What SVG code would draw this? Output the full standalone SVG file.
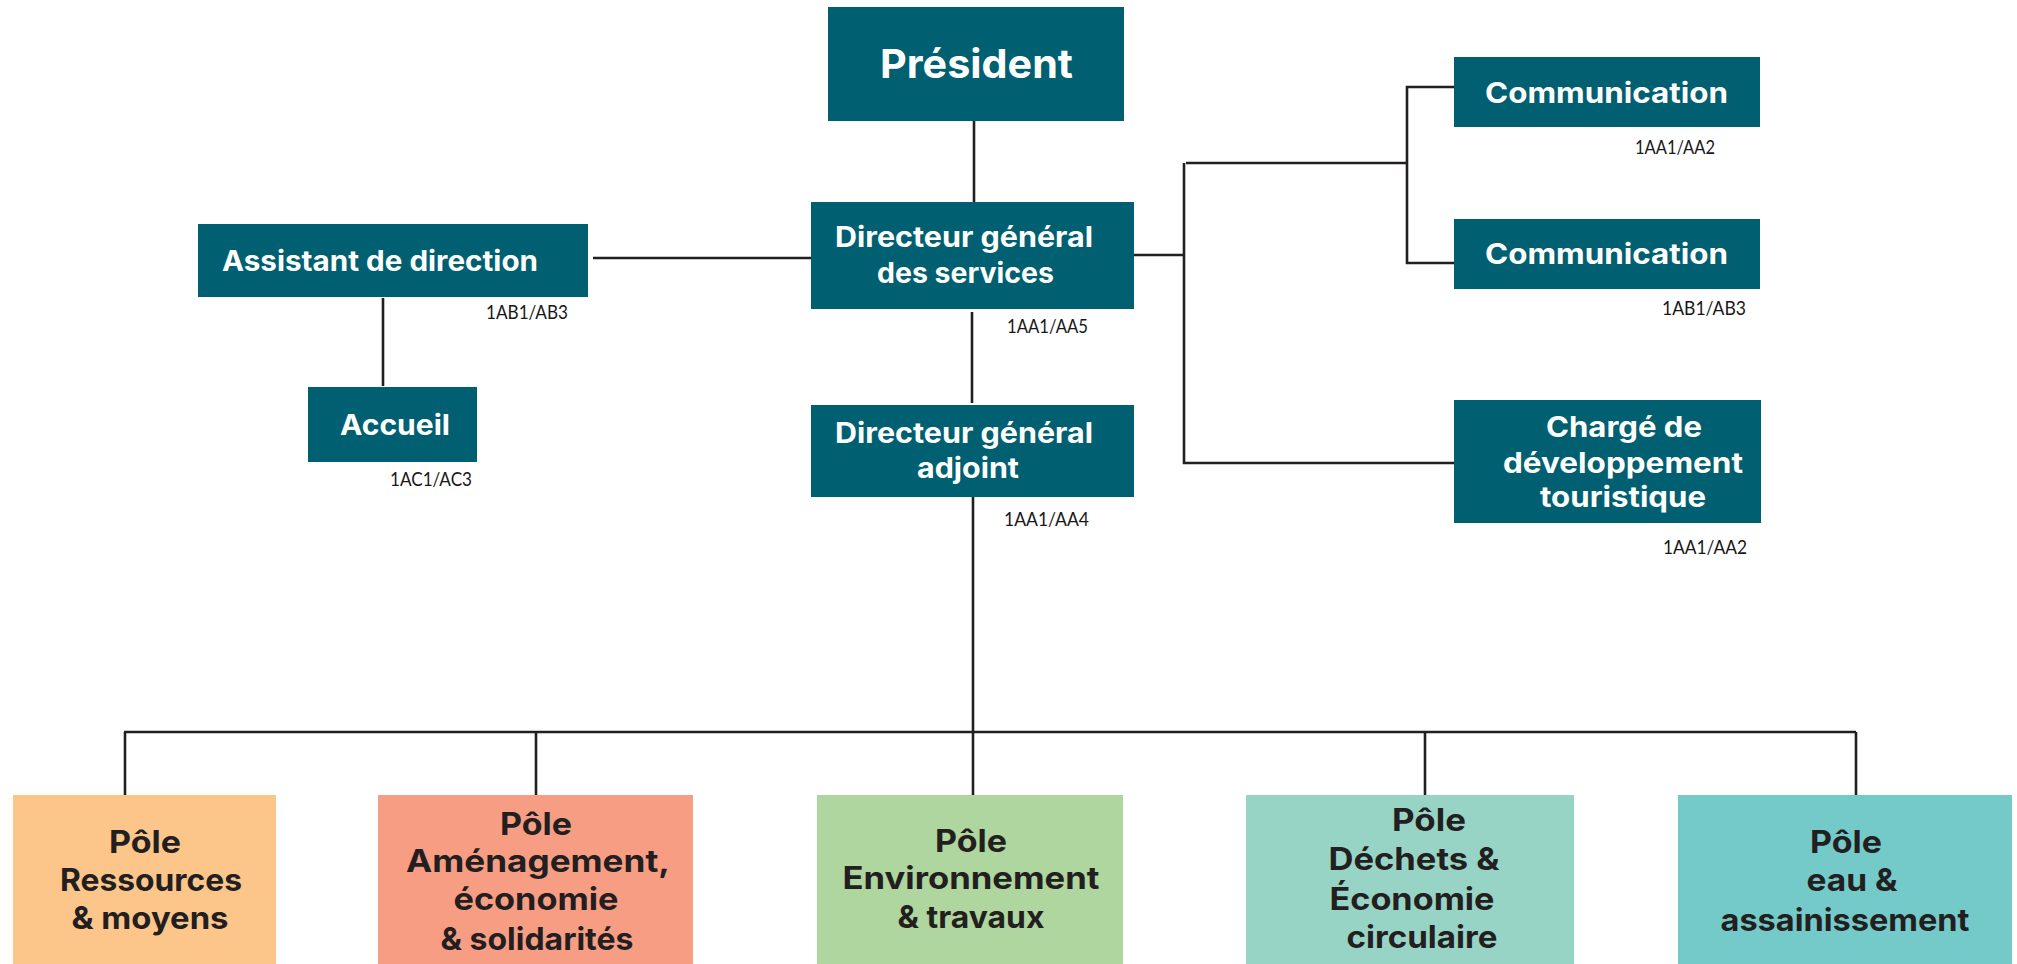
<svg xmlns="http://www.w3.org/2000/svg" width="2017" height="964" viewBox="0 0 2017 964">
<style>
.box{fill:#005F71}
.t{font-family:Inter,"Noto Sans","Liberation Sans",sans-serif;font-weight:700;fill:#FFFFFF;font-size:28px}
.big{font-size:40px}
.p{font-family:Inter,"Noto Sans","Liberation Sans",sans-serif;font-weight:700;fill:#231F20;font-size:31px;text-anchor:middle}
.lab{font-family:Lato,"Open Sans","Liberation Sans",sans-serif;font-weight:400;fill:#1A1718;font-size:19px}
.c{stroke:#231F20;stroke-width:2.6;fill:none}
</style>
<rect width="2017" height="964" fill="#FFFFFF"/>
<g id="connectors">
<line class="c" x1="974" y1="121" x2="974" y2="202"/>
<line class="c" x1="593" y1="258" x2="811" y2="258"/>
<line class="c" x1="383" y1="298" x2="383" y2="386"/>
<line class="c" x1="972" y1="312" x2="972" y2="403"/>
<line class="c" x1="1134" y1="255" x2="1185" y2="255"/>
<line class="c" x1="1184" y1="163" x2="1184" y2="464"/>
<line class="c" x1="1186" y1="163" x2="1408" y2="163"/>
<polyline class="c" points="1462,87 1407,87 1407,263 1462,263"/>
<line class="c" x1="1183" y1="463" x2="1454" y2="463"/>
<line class="c" x1="973" y1="497" x2="973" y2="795"/>
<line class="c" x1="124" y1="732" x2="1856" y2="732" stroke-width="3"/>
<line class="c" x1="125" y1="732" x2="125" y2="795"/>
<line class="c" x1="536" y1="732" x2="536" y2="795"/>
<line class="c" x1="1425" y1="732" x2="1425" y2="795"/>
<line class="c" x1="1856" y1="732" x2="1856" y2="795"/>
</g>
<g id="president">
<rect class="box" x="828" y="7" width="296" height="114"/>
<text class="t big" x="880" y="78" textLength="193" lengthAdjust="spacingAndGlyphs">Président</text>
</g>
<g id="dgs">
<rect class="box" x="811" y="202" width="323" height="107"/>
<text class="t" x="835" y="247" textLength="258" lengthAdjust="spacingAndGlyphs">Directeur général</text>
<text class="t" x="877" y="283" textLength="177" lengthAdjust="spacingAndGlyphs">des services</text>
<text class="lab" x="1007" y="333" textLength="81" lengthAdjust="spacingAndGlyphs">1AA1/AA5</text>
</g>
<g id="dga">
<rect class="box" x="811" y="405" width="323" height="92"/>
<text class="t" x="835" y="443" textLength="258" lengthAdjust="spacingAndGlyphs">Directeur général</text>
<text class="t" x="917" y="478" textLength="102" lengthAdjust="spacingAndGlyphs">adjoint</text>
<text class="lab" x="1004" y="526" textLength="85" lengthAdjust="spacingAndGlyphs">1AA1/AA4</text>
</g>
<g id="assistant">
<rect class="box" x="198" y="224" width="390" height="73"/>
<text class="t" x="222" y="271" textLength="316" lengthAdjust="spacingAndGlyphs">Assistant de direction</text>
<text class="lab" x="486" y="319" textLength="82" lengthAdjust="spacingAndGlyphs">1AB1/AB3</text>
</g>
<g id="accueil">
<rect class="box" x="308" y="387" width="169" height="75"/>
<text class="t" x="340" y="435" textLength="110" lengthAdjust="spacingAndGlyphs">Accueil</text>
<text class="lab" x="390" y="486" textLength="82" lengthAdjust="spacingAndGlyphs">1AC1/AC3</text>
</g>
<g id="communication1">
<rect class="box" x="1454" y="57" width="306" height="70"/>
<text class="t" x="1485" y="103" textLength="243" lengthAdjust="spacingAndGlyphs">Communication</text>
<text class="lab" x="1635" y="154" textLength="80" lengthAdjust="spacingAndGlyphs">1AA1/AA2</text>
</g>
<g id="communication2">
<rect class="box" x="1454" y="219" width="306" height="70"/>
<text class="t" x="1485" y="264" textLength="243" lengthAdjust="spacingAndGlyphs">Communication</text>
<text class="lab" x="1662" y="315" textLength="84" lengthAdjust="spacingAndGlyphs">1AB1/AB3</text>
</g>
<g id="charge">
<rect class="box" x="1454" y="400" width="307" height="123"/>
<text class="t" x="1546" y="437" textLength="156" lengthAdjust="spacingAndGlyphs">Chargé de</text>
<text class="t" x="1503" y="473" textLength="240" lengthAdjust="spacingAndGlyphs">développement</text>
<text class="t" x="1540" y="507" textLength="166" lengthAdjust="spacingAndGlyphs">touristique</text>
<text class="lab" x="1663" y="554" textLength="84" lengthAdjust="spacingAndGlyphs">1AA1/AA2</text>
</g>
<g id="pole-ressources">
<rect x="13" y="795" width="263" height="169" fill="#FCC68B"/>
<text class="p" x="145" y="853" textLength="72" lengthAdjust="spacingAndGlyphs">Pôle</text>
<text class="p" x="151" y="891" textLength="182" lengthAdjust="spacingAndGlyphs">Ressources</text>
<text class="p" x="150" y="929" textLength="157" lengthAdjust="spacingAndGlyphs">&amp; moyens</text>
</g>
<g id="pole-amenagement">
<rect x="378" y="795" width="315" height="169" fill="#F79D84"/>
<text class="p" x="536" y="835" textLength="72" lengthAdjust="spacingAndGlyphs">Pôle</text>
<text class="p" x="538" y="872" textLength="264" lengthAdjust="spacingAndGlyphs">Aménagement,</text>
<text class="p" x="536" y="910" textLength="165" lengthAdjust="spacingAndGlyphs">économie</text>
<text class="p" x="537" y="950" textLength="193" lengthAdjust="spacingAndGlyphs">&amp; solidarités</text>
</g>
<g id="pole-environnement">
<rect x="817" y="795" width="306" height="169" fill="#AED69E"/>
<text class="p" x="971" y="852" textLength="72" lengthAdjust="spacingAndGlyphs">Pôle</text>
<text class="p" x="971" y="889" textLength="257" lengthAdjust="spacingAndGlyphs">Environnement</text>
<text class="p" x="971" y="928" textLength="147" lengthAdjust="spacingAndGlyphs">&amp; travaux</text>
</g>
<g id="pole-dechets">
<rect x="1246" y="795" width="328" height="169" fill="#98D4C5"/>
<text class="p" x="1429" y="831" textLength="74" lengthAdjust="spacingAndGlyphs">Pôle</text>
<text class="p" x="1414" y="870" textLength="171" lengthAdjust="spacingAndGlyphs">Déchets &amp;</text>
<text class="p" x="1412" y="910" textLength="165" lengthAdjust="spacingAndGlyphs">Économie</text>
<text class="p" x="1422" y="948" textLength="151" lengthAdjust="spacingAndGlyphs">circulaire</text>
</g>
<g id="pole-eau">
<rect x="1678" y="795" width="334" height="169" fill="#74CAC8"/>
<text class="p" x="1846" y="853" textLength="72" lengthAdjust="spacingAndGlyphs">Pôle</text>
<text class="p" x="1852" y="891" textLength="91" lengthAdjust="spacingAndGlyphs">eau &amp;</text>
<text class="p" x="1845" y="931" textLength="249" lengthAdjust="spacingAndGlyphs">assainissement</text>
</g>
</svg>
